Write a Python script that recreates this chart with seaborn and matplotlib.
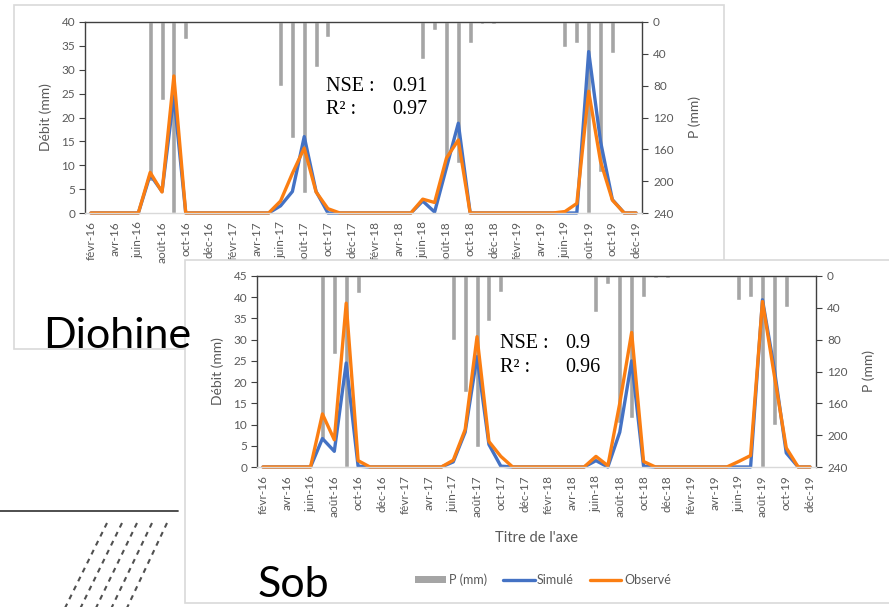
import numpy as np
import pandas as pd
import matplotlib
matplotlib.use("Agg")
import matplotlib.pyplot as plt
import seaborn as sns
from matplotlib.patches import Rectangle, Patch
from matplotlib.lines import Line2D

# ---------------- data ----------------
months = ["févr-16", "mars-16", "avr-16", "mai-16", "juin-16", "juil-16", "août-16", "sept-16",
          "oct-16", "nov-16", "déc-16",
          "janv-17", "févr-17", "mars-17", "avr-17", "mai-17", "juin-17", "juil-17", "août-17",
          "sept-17", "oct-17", "nov-17", "déc-17",
          "janv-18", "févr-18", "mars-18", "avr-18", "mai-18", "juin-18", "juil-18", "août-18",
          "sept-18", "oct-18", "nov-18", "déc-18",
          "janv-19", "févr-19", "mars-19", "avr-19", "mai-19", "juin-19", "juil-19", "août-19",
          "sept-19", "oct-19", "nov-19", "déc-19"]
tick_labels = ["févr-16", "avr-16", "juin-16", "août-16", "oct-16", "déc-16",
               "févr-17", "avr-17", "juin-17", "août-17", "oct-17", "déc-17",
               "févr-18", "avr-18", "juin-18", "août-18", "oct-18", "déc-18",
               "févr-19", "avr-19", "juin-19", "août-19", "oct-19", "déc-19"]

# Diohine (top chart)
sim_dio = [0, 0, 0, 0, 0, 8.0, 4.5, 24.5, 0, 0, 0,
           0, 0, 0, 0, 0, 1.5, 4.5, 16.0, 4.5, 0, 0, 0,
           0, 0, 0, 0, 0, 2.5, 0.2, 9.5, 18.8, 0, 0, 0,
           0, 0, 0, 0, 0, 0, 0, 33.8, 15.0, 2.8, 0, 0]
obs_dio = [0, 0, 0, 0, 0, 8.5, 4.4, 28.7, 0, 0, 0,
           0, 0, 0, 0, 0, 2.5, 8.3, 13.6, 4.4, 0.9, 0, 0,
           0, 0, 0, 0, 0, 2.9, 2.2, 11.5, 15.3, 0, 0, 0,
           0, 0, 0, 0, 0, 0.3, 2.0, 25.5, 10.8, 2.7, 0, 0]
p_dio = [0, 0, 0, 0, 0, 200, 98, 240, 21, 0, 0,
         0, 0, 0, 0, 0, 81, 146, 215, 56, 19, 0, 0,
         0, 0, 0, 0, 0, 46, 10, 172, 177, 27, 2, 2,
         0, 0, 0, 0, 0, 31, 27, 240, 188, 39, 0, 0]

# Sob (bottom chart)
sim_sob = [0, 0, 0, 0, 0, 6.7, 3.7, 24.5, 0.2, 0, 0,
           0, 0, 0, 0, 0, 1.2, 8.2, 26.0, 5.3, 0.2, 0, 0,
           0, 0, 0, 0, 0, 1.5, 0, 8.2, 25.0, 0.2, 0, 0,
           0, 0, 0, 0, 0, 0, 0, 39.4, 23.0, 3.3, 0, 0]
obs_sob = [0, 0, 0, 0, 0, 12.5, 6.4, 38.6, 1.5, 0, 0,
           0, 0, 0, 0, 0, 1.6, 8.8, 30.7, 6.0, 2.5, 0, 0,
           0, 0, 0, 0, 0, 2.5, 0.3, 15.0, 31.7, 1.3, 0, 0,
           0, 0, 0, 0, 0, 1.3, 2.7, 39.0, 21.5, 4.5, 0, 0]
p_sob = [0, 0, 0, 0, 0, 205, 98, 240, 21, 0, 0,
         0, 0, 0, 0, 0, 80, 146, 215, 57, 20, 0, 0,
         0, 0, 0, 0, 0, 45, 10, 185, 178, 27, 2, 2,
         0, 0, 0, 0, 0, 30, 27, 240, 187, 39, 0, 0]

stats_dio = ["0.91", "0.97"]
stats_sob = ["0.9", "0.96"]

# ---------------- style ----------------
sns.set_style("white")
plt.rcParams["font.family"] = ["Lato", "DejaVu Sans"]

BLUE = "#4472C4"
ORANGE = "#FB7E12"
GRAY = "#A5A5A5"
TXT = "#595959"
DARK = "#404040"

W, H = 889, 607
fig = plt.figure(figsize=(W / 100, H / 100), dpi=100)
fig.patch.set_facecolor("white")


def fx(x):
    return x / W


def fy(y):
    return 1 - y / H


def frame(x0, y0, x1, y1, z):
    fig.add_artist(Rectangle((fx(x0), fy(y1)), (x1 - x0) / W, (y1 - y0) / H,
                             transform=fig.transFigure, facecolor="white",
                             edgecolor="#D9D9D9", lw=1.2, zorder=z))


def chart(box, sim, obs, prec, ymax, z, xlabel):
    x0, y0, x1, y1 = box
    ax = fig.add_axes([fx(x0), fy(y1), (x1 - x0) / W, (y1 - y0) / H])
    axb = ax.twinx()
    axb.set_zorder(z)
    ax.set_zorder(z + 0.05)
    ax.patch.set_visible(False)
    axb.patch.set_visible(False)

    df = pd.DataFrame({"idx": np.arange(len(months)), "mois": months,
                       "sim": sim, "obs": obs, "P": prec})
    sns.barplot(data=df, x="idx", y="P", ax=axb, color=GRAY, width=0.42,
                errorbar=None, saturation=1, native_scale=True)
    sns.lineplot(data=df, x="idx", y="sim", ax=ax, color=BLUE, lw=2.4,
                 legend=False, clip_on=False, solid_joinstyle="round")
    sns.lineplot(data=df, x="idx", y="obs", ax=ax, color=ORANGE, lw=2.4,
                 legend=False, clip_on=False, solid_joinstyle="round")

    ax.set_xlim(-0.5, len(months) - 0.5)
    ax.set_ylim(0, ymax)
    axb.set_ylim(240, 0)
    ax.set_yticks(np.arange(0, ymax + 1, 5))
    axb.set_yticks(np.arange(0, 241, 40))
    ax.set_xticks(np.arange(0, len(months), 2))
    ax.set_xticklabels(tick_labels, rotation=90)

    for s in ["left", "top"]:
        ax.spines[s].set_color(DARK)
        ax.spines[s].set_linewidth(1.0)
    ax.spines["bottom"].set_color("#D9D9D9")
    ax.spines["bottom"].set_linewidth(1.0)
    ax.spines["right"].set_visible(False)
    for s in ["left", "top", "bottom"]:
        axb.spines[s].set_visible(False)
    axb.spines["right"].set_visible(True)
    axb.spines["right"].set_color(DARK)
    axb.spines["right"].set_linewidth(1.0)

    ax.tick_params(axis="y", left=True, direction="out", length=4, width=0.8,
                   color=DARK, labelcolor=TXT, labelsize=8.5, pad=3)
    ax.tick_params(axis="x", bottom=True, length=0, labelcolor=TXT, labelsize=8.5, pad=6)
    axb.tick_params(axis="y", right=True, direction="out", length=4, width=0.8,
                    color=DARK, labelcolor=TXT, labelsize=8.5, pad=4)

    ax.set_ylabel("Débit (mm)", color=TXT, fontsize=10)
    ax.yaxis.set_label_coords(-33 / (x1 - x0), 0.5)
    axb.set_ylabel("P (mm)", color=TXT, fontsize=10)
    axb.yaxis.set_label_coords(1 + 46 / (x1 - x0), 0.5)
    ax.set_xlabel(xlabel, color=TXT, fontsize=10.5)
    ax.xaxis.set_label_coords(0.5, -64 / (y1 - y0))
    axb.set_xlabel("")
    return ax, axb


def stats(x, xv, y_nse, y_r2, vals):
    kw = dict(fontsize=14.5, family=["Liberation Serif", "DejaVu Serif"],
              color="black", va="baseline", ha="left", zorder=20)
    fig.text(fx(x), fy(y_nse), "NSE :", **kw)
    fig.text(fx(x), fy(y_r2), "R² :", **kw)
    fig.text(fx(xv), fy(y_nse), vals[0], **kw)
    fig.text(fx(xv), fy(y_r2), vals[1], **kw)


# top chart (Diohine)
frame(13.5, 5, 723.5, 349, 0.1)
chart((85, 22, 642, 213), sim_dio, obs_dio, p_dio, 40, 0.2, "")
stats(326, 392, 91, 114, stats_dio)

# bottom chart (Sob)
frame(185, 260, 891, 603, 0.5)
ax2, ax2b = chart((257, 276, 816, 467), sim_sob, obs_sob, p_sob, 45, 0.6, "Titre de l'axe")
stats(500, 565, 348, 372, stats_sob)

handles = [Patch(facecolor=GRAY, edgecolor="none"),
           Line2D([0], [0], color=BLUE, lw=2.4),
           Line2D([0], [0], color=ORANGE, lw=2.4)]
leg = fig.legend(handles, ["P (mm)", "Simulé", "Observé"], loc="center",
                 bbox_to_anchor=(fx(543), fy(580)), ncol=3, frameon=False,
                 fontsize=9, handlelength=2.5, handleheight=0.5,
                 handletextpad=0.2, columnspacing=1.3)
for t in leg.get_texts():
    t.set_color(TXT)
leg.set_zorder(5)

# big station labels
fig.text(fx(43), fy(348), "Diohine", fontsize=31, color="black", va="baseline",
         ha="left", zorder=30)
fig.text(fx(258), fy(597), "Sob", fontsize=31, color="black", va="baseline",
         ha="left", zorder=30)

# decorative lines (bottom-left)
fig.add_artist(Line2D([fx(0), fx(178)], [fy(511), fy(511)], color=DARK, lw=1.3,
                      transform=fig.transFigure, zorder=10))
for k in range(5):
    xt, xb = 107 + 15 * k, 64 + 15.5 * k
    fig.add_artist(Line2D([fx(xt), fx(xb)], [fy(523), fy(610)], color="#505050",
                          lw=1.5, linestyle=(0, (2.4, 2.4)),
                          transform=fig.transFigure, zorder=10))

fig.savefig("out.png", dpi=100, facecolor="white")
